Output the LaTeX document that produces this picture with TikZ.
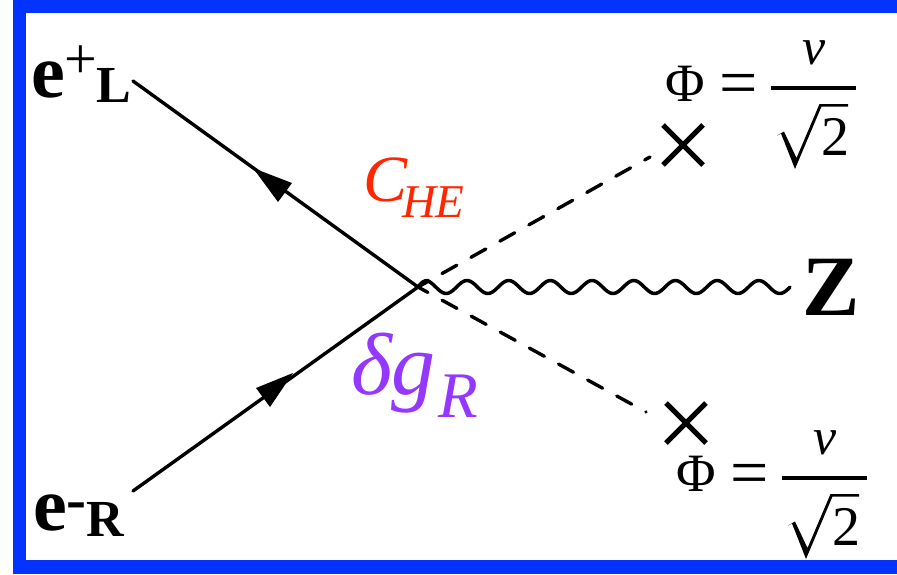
\documentclass[tikz,border=0pt]{standalone}
\usepackage{fontspec}
\setmainfont{Liberation Serif}
\definecolor{frameblue}{HTML}{0433FF}
\definecolor{cheorange}{HTML}{FF2600}
\definecolor{dgpurple}{HTML}{9437FF}
\newcommand{\fsz}[1]{\fontsize{#1}{#1}\selectfont}
\tikzset{
  lbl/.style={inner sep=0pt,outer sep=0pt,anchor=base west,text=black},
  fermion/.style={draw=black,line width=3.4pt,line cap=round},
  scalarline/.style={draw=black,line width=3.4pt,line cap=round,dash pattern=on 17pt off 16.2pt,dash phase=5.7pt},
  boson/.style={draw=black,line width=3.5pt,line cap=round,line join=round},
  crossmark/.style={draw=black,line width=5pt},
  arrowfill/.style={fill=black,draw=none}
}
\newcommand{\vevlabel}[3]{%
  \begin{scope}[shift={(#2,#3)}]
    \node[lbl,font=\fsz{54}] (#1phi) at (665,101) {Φ};
    \node[lbl,font=\fsz{68}] (#1eq) at (719,105) {=};
    \node[lbl,font=\fsz{52}\itshape] (#1v) at (802,64) {v};
    \node[lbl,font=\fsz{56}] (#1two) at (821,155) {2};
    \fill[black] (771,86) rectangle (856,90);
    \fill[black] (777,135.5) -- (784,131.5) -- (796.5,158) -- (819.5,104) -- (848,104) -- (848,106.5) -- (821.5,106.5) -- (795,169) -- (781,133.5) -- cycle;
  \end{scope}}
\begin{document}
\begin{tikzpicture}[x=1pt,y=-1pt]
\useasboundingbox (0,0) rectangle (897,574);
\fill[frameblue] (0,0) rectangle (897,574);
\fill[white] (26,13) rectangle (897,560);
\fill[white] (0,0) rectangle (13,574);
% coordinates
\coordinate (vertex) at (418,287);
\coordinate (eplusend) at (133,81);
\coordinate (eminusend) at (133,491);
\coordinate (upend) at (650,157);
\coordinate (downend) at (646,412);
% fermions
\draw[fermion] (eplusend) -- (vertex);
\draw[fermion] (eminusend) -- (vertex);
\fill[arrowfill] (253,168) -- (292,183) -- (278,202) -- cycle;
\fill[arrowfill] (293,373) -- (256,388) -- (270,407) -- cycle;
% scalars
\draw[scalarline] (vertex) -- (upend);
\draw[scalarline] (vertex) -- (downend);
% boson
\draw[boson] (vertex) .. controls (421,283) and (424,280) .. (428,280.5) -- plot[domain=428:790,samples=180,smooth] (\x,{287-6.5*cos((\x-467)/41.7*360)});
% crosses
\draw[crossmark] (663,125) -- (703,165) (703,125) -- (663,165);
\draw[crossmark] (666,403) -- (706,443) (706,403) -- (666,443);
% labels
\node[lbl,font=\fsz{76}\bfseries] (e1) at (31,97) {e};
\node[lbl,font=\fsz{58}] (plus) at (64,78) {+};
\node[lbl,font=\fsz{52}\bfseries] (L) at (96,102) {L};
\node[lbl,font=\fsz{76}\bfseries] (e2) at (33,530) {e};
\node[lbl,font=\fsz{60}\bfseries] (minus) at (66,519) {-};
\node[lbl,font=\fsz{52}\bfseries] (R) at (86,536) {R};
\node[lbl,font=\fsz{86}\bfseries] (Z) at (802,315) {Z};
\node[lbl,text=cheorange,font=\fsz{66}\itshape] (C) at (363,201) {C};
\node[lbl,text=cheorange,font=\fsz{47}\itshape] (HE) at (402,217) {HE};
\node[lbl,text=dgpurple,font=\fsz{88}\itshape] (dg) at (351,394) {δg};
\node[lbl,text=dgpurple,font=\fsz{65}\itshape] (Rsub) at (438,417) {R};
\vevlabel{top}{0}{0}
\vevlabel{bot}{11}{390}
\end{tikzpicture}
\end{document}
